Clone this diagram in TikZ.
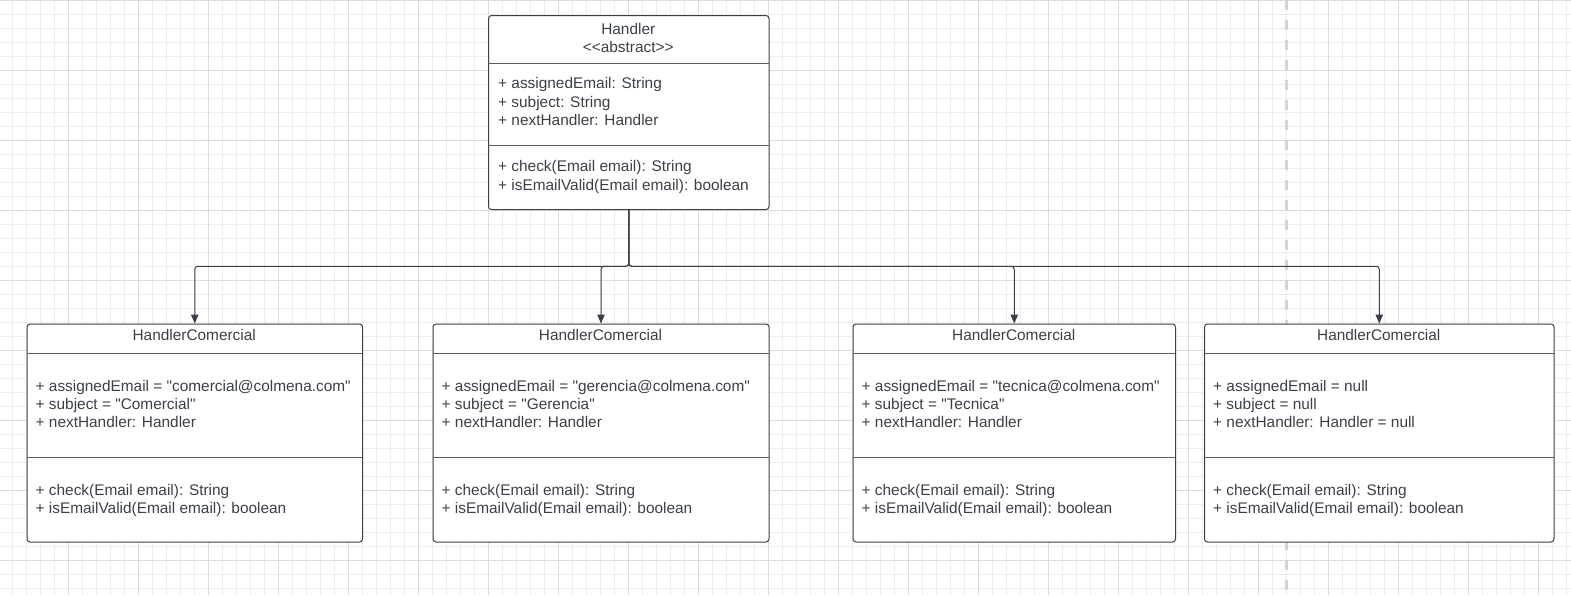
\documentclass[tikz,border=0pt]{standalone}
\usepackage{fontspec}
\newfontfamily\lucid{Liberation Sans}
\usetikzlibrary{arrows.meta}
\definecolor{ink}{HTML}{3B4048}
\definecolor{gridminor}{HTML}{EDEDED}
\definecolor{gridmajor}{HTML}{DCDCDC}
\definecolor{guidegrey}{HTML}{D4D4D4}
\tikzset{
  classbox/.style={draw=ink, line width=1pt, rounded corners=3pt, fill=white,
    inner sep=0pt, anchor=north west, minimum height=218},
  sepline/.style={draw=ink!85, line width=0.9pt},
  member/.style={font=\lucid\fontsize{15.4}{18}\selectfont, text=ink,
    inner sep=0pt, anchor=base west},
  classtitle/.style={member, anchor=base},
  inherit/.style={draw=ink, line width=1pt, rounded corners=3pt,
    -{Triangle[length=9pt,width=7.5pt]}},
  guideline/.style={draw=guidegrey, line width=2.7pt, dash pattern=on 10pt off 10pt}
}
\begin{document}
\begin{tikzpicture}[x=1pt,y=-1pt]
\useasboundingbox (0,0) rectangle (1571,595);
\fill[white] (0,0) rectangle (1571,595);

\foreach \gx in {12.3,26.3,...,1571}
  {\draw[gridminor, line width=1pt] (\gx,0) -- (\gx,595);}
\foreach \gy in {0.7,14.7,...,595}
  {\draw[gridminor, line width=1pt] (0,\gy) -- (1571,\gy);}
\foreach \gx in {68.3,138.3,...,1571}
  {\draw[gridmajor, line width=1pt] (\gx,0) -- (\gx,595);}
\foreach \gy in {0.7,70.7,...,595}
  {\draw[gridmajor, line width=1pt] (0,\gy) -- (1571,\gy);}

\draw[guideline] (1286.3,0) -- (1286.3,595);

\node[classbox, minimum width=280.5, minimum height=194] at (488,15) (handler) {};
\path (handler.north west) +(140.25,19)  node[classtitle] (hname)   {Handler}
                           +(140.25,37.5) node[classtitle] (hstereo) {<<abstract>>}
                           +(0,48)        coordinate (hsepa)
                           +(280.5,48)    coordinate (hsepb)
                           +(10,73.5)     node[member] (hmail)  {+ assignedEmail: String}
                           +(10,92)       node[member] (hsubj)  {+ subject: String}
                           +(10,110.5)    node[member] (hnext)  {+ nextHandler: Handler}
                           +(0,130.5)     coordinate (hsepc)
                           +(280.5,130.5) coordinate (hsepd)
                           +(10,156.5)    node[member] (hcheck) {+ check(Email email): String}
                           +(10,175)      node[member] (hvalid) {+ isEmailValid(Email email): boolean}
;
\draw[sepline] (hsepa) -- (hsepb);
\draw[sepline] (hsepc) -- (hsepd);

\foreach \n/\xl/\w/\mail/\subj/\nxt in {
    c1/26.5/335.5/{"comercial@colmena.com"}/{"Comercial"}/{Handler},
    c2/432.5/336/{"gerencia@colmena.com"}/{"Gerencia"}/{Handler},
    c3/852.5/322.5/{"tecnica@colmena.com"}/{"Tecnica"}/{Handler},
    c4/1204/349.5/{null}/{null}/{Handler = null}}
{
  \node[classbox, minimum width=\w] at (\xl,323.5) (\n) {};
  \path (\n.north west) +(\w/2,17.2) node[classtitle] (\n-name) {HandlerComercial}
                        +(0,29.8)    coordinate (\n-sepa)
                        +(\w,29.8)   coordinate (\n-sepb)
                        +(9,67.5)    node[member] (\n-mail)  {+ assignedEmail = \mail}
                        +(9,85.5)    node[member] (\n-subj)  {+ subject = \subj}
                        +(9,103.5)   node[member] (\n-next)  {+ nextHandler: \nxt}
                        +(0,133.5)   coordinate (\n-sepc)
                        +(\w,133.5)  coordinate (\n-sepd)
                        +(9,171.5)   node[member] (\n-check) {+ check(Email email): String}
                        +(9,189.5)   node[member] (\n-valid) {+ isEmailValid(Email email): boolean}
  ;
  \draw[sepline] (\n-sepa) -- (\n-sepb);
  \draw[sepline] (\n-sepc) -- (\n-sepd);
}

\coordinate (bus) at (628.25,266.3);
\foreach \n in {c1,c2,c3,c4}
  {\draw[inherit] (handler.south) -- (handler.south |- bus) -| (\n.north);}

\end{tikzpicture}
\end{document}
